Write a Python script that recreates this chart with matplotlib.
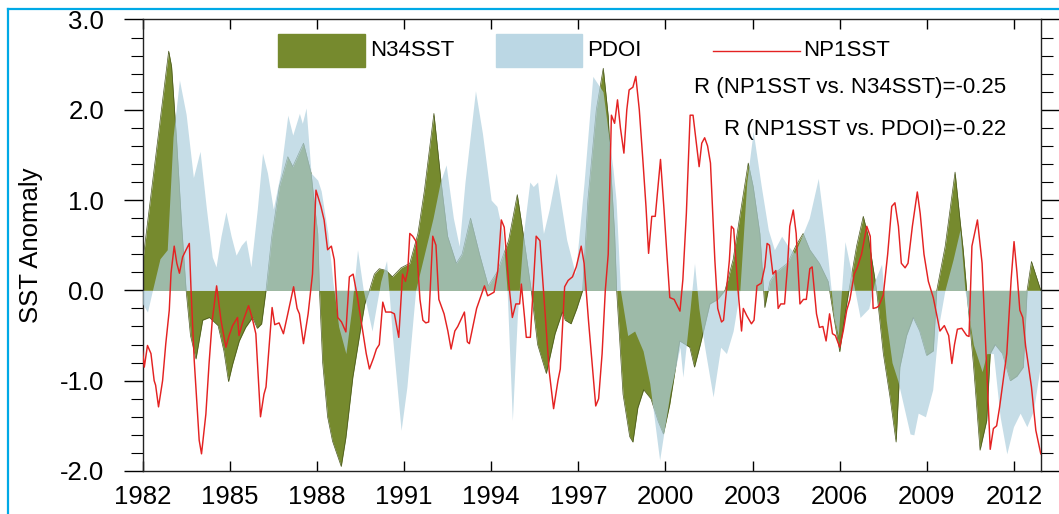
import numpy as np
import matplotlib.pyplot as plt
from matplotlib.patches import Rectangle
from matplotlib.lines import Line2D
from matplotlib.ticker import MultipleLocator, FormatStrFormatter

plt.rcParams['font.family'] = ['Liberation Sans', 'DejaVu Sans']

# (decimal year, anomaly)
n34 = [(1982.0, 0.3), (1982.9, 2.65), (1983.0, 2.48), (1983.1, 2.0), (1983.17, 1.67), (1983.35, 0.7),
       (1983.5, 0.0), (1983.65, -0.5), (1983.84, -0.76), (1984.07, -0.33), (1984.3, -0.3), (1984.6, -0.39),
       (1984.8, -0.67), (1984.96, -1.01), (1985.1, -0.82), (1985.33, -0.56), (1985.55, -0.41), (1985.79, -0.3),
       (1985.95, -0.42), (1986.1, -0.37), (1986.25, 0.0), (1986.45, 0.6), (1986.71, 1.15), (1987.0, 1.48),
       (1987.17, 1.37), (1987.54, 1.63), (1987.8, 1.3), (1988.03, 0.63), (1988.09, 0.0), (1988.2, -0.8),
       (1988.37, -1.4), (1988.54, -1.67), (1988.84, -1.95), (1989.0, -1.63), (1989.24, -0.96), (1989.47, -0.5),
       (1989.65, -0.15), (1989.81, 0.0), (1989.98, 0.18), (1990.15, 0.24), (1990.39, 0.22), (1990.6, 0.15),
       (1990.9, 0.25), (1991.2, 0.3), (1991.48, 0.63), (1991.7, 1.1), (1992.03, 1.96), (1992.27, 1.22),
       (1992.5, 0.6), (1992.8, 0.3), (1993.0, 0.4), (1993.29, 0.8), (1993.6, 0.4), (1993.9, 0.05),
       (1994.2, 0.2), (1994.6, 0.55), (1994.9, 1.06), (1995.1, 0.63), (1995.38, 0.0), (1995.6, -0.6),
       (1995.9, -0.92), (1996.2, -0.48), (1996.45, -0.24), (1996.55, -0.33), (1996.75, -0.37), (1996.95, -0.2),
       (1997.15, 0.0), (1997.33, 1.0), (1997.62, 2.0), (1997.86, 2.46), (1998.03, 1.93), (1998.14, 1.22),
       (1998.25, 0.63), (1998.32, 0.0), (1998.54, -1.15), (1998.77, -1.62), (1998.88, -1.68), (1999.05, -1.3),
       (1999.25, -1.1), (1999.5, -1.2), (1999.75, -1.45), (1999.93, -1.59), (2000.15, -1.26), (2000.49, -0.56),
       (2000.84, -0.63), (2001.0, -0.85), (2001.2, -0.6), (2001.53, -0.15), (2001.8, -0.1), (2002.05, 0.0),
       (2002.33, 0.34), (2002.56, 0.82), (2002.85, 1.41), (2003.02, 1.15), (2003.25, 0.63), (2003.42, -0.19),
       (2003.6, 0.1), (2003.8, 0.2), (2004.2, 0.3), (2004.5, 0.5), (2004.74, 0.63), (2004.97, 0.45),
       (2005.3, 0.3), (2005.6, 0.1), (2005.8, -0.3), (2006.0, -0.68), (2006.15, -0.33), (2006.29, -0.05),
       (2006.58, 0.49), (2006.81, 0.82), (2006.98, 0.6), (2007.27, 0.0), (2007.5, -0.7), (2007.73, -1.18),
       (2007.94, -1.68), (2008.07, -0.85), (2008.3, -0.5), (2008.53, -0.3), (2008.75, -0.45), (2008.99, -0.72),
       (2009.22, -0.67), (2009.34, 0.0), (2009.63, 0.49), (2009.97, 1.31), (2010.14, 0.78), (2010.25, 0.45),
       (2010.37, 0.0), (2010.6, -0.81), (2010.83, -1.77), (2011.06, -1.44), (2011.18, -0.7), (2011.35, -0.6),
       (2011.6, -0.7), (2011.87, -1.0), (2012.1, -0.95), (2012.32, -0.85), (2012.45, 0.0), (2012.6, 0.32),
       (2012.92, 0.0)]

pdoi = [(1982.0, -0.15), (1982.17, -0.24), (1982.34, 0.0), (1982.6, 0.35), (1982.85, 0.45), (1983.05, 1.7),
        (1983.27, 2.33), (1983.5, 1.95), (1983.75, 1.25), (1983.98, 1.54), (1984.2, 0.9), (1984.4, 0.37),
        (1984.53, 0.26), (1984.7, 0.6), (1984.87, 0.87), (1985.05, 0.6), (1985.22, 0.39), (1985.4, 0.5),
        (1985.56, 0.56), (1985.73, 0.26), (1985.95, 0.9), (1986.13, 1.52), (1986.3, 1.3), (1986.5, 0.9),
        (1986.75, 1.3), (1987.0, 1.94), (1987.17, 1.72), (1987.4, 1.96), (1987.5, 1.85), (1987.63, 2.02),
        (1987.8, 1.3), (1988.03, 1.22), (1988.15, 1.1), (1988.38, 0.63), (1988.55, 0.1), (1988.75, -0.4),
        (1989.0, -0.7), (1989.2, -0.2), (1989.4, 0.45), (1989.6, 0.0), (1989.9, -0.45), (1990.2, 0.1),
        (1990.4, 0.33), (1990.6, -0.5), (1990.9, -1.55), (1991.1, -1.07), (1991.4, 0.0), (1991.7, 0.4),
        (1992.0, 0.8), (1992.25, 1.2), (1992.45, 1.39), (1992.7, 0.8), (1992.9, 0.49), (1993.1, 1.2),
        (1993.46, 2.21), (1993.7, 1.74), (1994.0, 1.0), (1994.2, 0.93), (1994.4, 0.63), (1994.55, 0.0),
        (1994.73, -1.44), (1994.9, -0.3), (1995.1, 0.6), (1995.33, 1.2), (1995.45, 1.15), (1995.6, 1.2),
        (1995.8, 0.63), (1996.0, 0.9), (1996.24, 1.3), (1996.6, 0.56), (1996.9, 0.18), (1997.2, 1.2),
        (1997.5, 2.37), (1997.85, 2.2), (1998.2, 1.33), (1998.3, 1.0), (1998.45, 0.0), (1998.7, -0.5),
        (1998.94, -0.45), (1999.23, -0.67), (1999.46, -1.03), (1999.8, -1.88), (2000.15, -1.15), (2000.5, -0.63),
        (2000.6, -0.96), (2000.85, -0.2), (2001.0, 0.3), (2001.15, -0.2), (2001.35, -0.63), (2001.64, -1.18),
        (2001.9, -0.63), (2002.1, -0.7), (2002.33, -0.45), (2002.56, 0.0), (2002.8, 1.2), (2003.02, 1.76),
        (2003.3, 1.15), (2003.54, 0.67), (2003.75, 0.45), (2004.0, 0.6), (2004.2, 0.5), (2004.45, 0.41),
        (2004.7, 0.6), (2004.95, 0.8), (2005.26, 1.24), (2005.5, 0.63), (2005.6, 0.34), (2005.8, -0.3),
        (2005.95, -0.5), (2006.18, 0.54), (2006.4, 0.2), (2006.7, -0.3), (2007.0, -0.2), (2007.2, 0.1),
        (2007.44, 0.29), (2007.6, -0.33), (2007.8, -0.8), (2008.0, -1.0), (2008.42, -1.59), (2008.55, -1.6),
        (2008.7, -1.36), (2008.95, -1.4), (2009.2, -1.1), (2009.4, -0.4), (2009.62, 0.0), (2009.9, 0.34),
        (2010.14, 0.67), (2010.31, 0.0), (2010.6, -0.6), (2010.9, -0.9), (2011.06, -0.7), (2011.29, -0.7),
        (2011.52, -1.4), (2011.75, -1.81), (2011.98, -1.51), (2012.21, -1.36), (2012.44, -1.51), (2012.67, -1.33),
        (2012.92, -0.8)]

np1 = [(1982.00, -0.67), (1982.06, -0.85), (1982.17, -0.61), (1982.29, -0.70), (1982.40, -1.00), (1982.45, -1.05),
       (1982.55, -1.29), (1982.69, -1.00), (1982.80, -0.59), (1982.92, -0.22), (1982.98, 0.19), (1983.09, 0.49),
       (1983.18, 0.30), (1983.27, 0.19), (1983.38, 0.37), (1983.50, 0.45), (1983.61, 0.52), (1983.67, 0.00),
       (1983.78, -0.78), (1983.95, -1.66), (1984.03, -1.81), (1984.18, -1.37), (1984.29, -0.81), (1984.40, -0.33),
       (1984.55, 0.05), (1984.70, -0.33), (1984.87, -0.63), (1984.97, -0.51), (1985.10, -0.39), (1985.27, -0.30),
       (1985.32, -0.50), (1985.45, -0.35), (1985.65, -0.17), (1985.77, -0.30), (1985.90, -0.48), (1986.06, -1.40),
       (1986.18, -1.15), (1986.25, -1.07), (1986.46, -0.19), (1986.55, -0.38), (1986.70, -0.36), (1986.85, -0.48),
       (1987.00, -0.26), (1987.20, 0.04), (1987.32, -0.20), (1987.40, -0.26), (1987.54, -0.59), (1987.70, -0.26),
       (1987.85, 0.18), (1987.97, 1.11), (1988.14, 0.93), (1988.25, 0.78), (1988.37, 0.45), (1988.50, 0.49),
       (1988.60, 0.34), (1988.72, -0.30), (1988.85, -0.35), (1989.00, -0.46), (1989.12, 0.15), (1989.25, 0.18),
       (1989.40, -0.08), (1989.58, -0.45), (1989.70, -0.70), (1989.81, -0.87), (1989.95, -0.75), (1990.05, -0.65),
       (1990.15, -0.60), (1990.27, -0.13), (1990.37, -0.24), (1990.55, -0.24), (1990.67, -0.26), (1990.82, -0.52),
       (1990.95, 0.18), (1991.05, 0.10), (1991.13, 0.22), (1991.20, 0.63), (1991.30, 0.60), (1991.42, 0.54),
       (1991.55, -0.10), (1991.65, -0.33), (1991.75, -0.36), (1991.85, -0.35), (1991.99, 0.60), (1992.10, 0.50),
       (1992.20, -0.10), (1992.38, -0.26), (1992.51, -0.45), (1992.62, -0.65), (1992.75, -0.45), (1992.85, -0.40),
       (1993.08, -0.24), (1993.18, -0.57), (1993.25, -0.59), (1993.50, -0.20), (1993.77, 0.05), (1993.88, -0.06),
       (1994.10, -0.02), (1994.23, 0.22), (1994.35, 0.78), (1994.45, 0.70), (1994.60, 0.10), (1994.73, -0.30),
       (1994.85, -0.15), (1994.98, -0.15), (1995.04, 0.07), (1995.15, -0.30), (1995.21, -0.52), (1995.35, -0.52),
       (1995.55, 0.60), (1995.68, 0.55), (1995.80, 0.00), (1996.00, -0.90), (1996.15, -1.31), (1996.30, -1.00),
       (1996.38, -0.87), (1996.53, 0.04), (1996.65, 0.11), (1996.80, 0.15), (1996.93, 0.26), (1997.10, 0.49),
       (1997.20, 0.30), (1997.35, -0.33), (1997.50, -0.90), (1997.60, -1.28), (1997.70, -1.20), (1997.82, -0.70),
       (1997.93, 0.00), (1998.03, 0.40), (1998.14, 1.94), (1998.25, 1.85), (1998.35, 2.11), (1998.45, 1.80),
       (1998.57, 1.52), (1998.67, 2.00), (1998.75, 2.22), (1998.88, 2.25), (1998.98, 2.37), (1999.10, 2.00),
       (1999.23, 1.41), (1999.33, 0.93), (1999.42, 0.41), (1999.53, 0.82), (1999.65, 0.82), (1999.83, 1.45),
       (1999.95, 0.90), (2000.05, 0.40), (2000.15, -0.08), (2000.30, -0.10), (2000.50, -0.23), (2000.60, 0.12),
       (2000.72, 0.85), (2000.85, 1.94), (2000.95, 1.94), (2001.16, 1.37), (2001.25, 1.63), (2001.35, 1.69),
       (2001.45, 1.60), (2001.55, 1.41), (2001.70, 0.34), (2001.80, -0.20), (2001.93, -0.35), (2002.00, -0.33),
       (2002.10, 0.00), (2002.20, 0.33), (2002.27, 0.71), (2002.35, 0.68), (2002.50, 0.00), (2002.62, -0.45),
       (2002.68, -0.20), (2002.80, -0.28), (2002.96, -0.37), (2003.05, -0.33), (2003.15, 0.05), (2003.30, 0.08),
       (2003.42, 0.26), (2003.50, 0.52), (2003.58, 0.50), (2003.70, 0.18), (2003.80, 0.22), (2003.88, -0.20),
       (2003.97, -0.15), (2004.10, -0.15), (2004.20, 0.26), (2004.28, 0.71), (2004.40, 0.89), (2004.50, 0.63),
       (2004.63, -0.15), (2004.75, -0.10), (2004.85, -0.10), (2004.97, 0.24), (2005.05, 0.26), (2005.20, -0.26),
       (2005.30, -0.41), (2005.42, -0.40), (2005.53, -0.56), (2005.65, -0.26), (2005.75, -0.48), (2005.85, -0.50),
       (2006.00, -0.63), (2006.12, -0.45), (2006.24, -0.22), (2006.35, -0.10), (2006.50, 0.18), (2006.60, 0.25),
       (2006.75, 0.40), (2006.93, 0.71), (2007.05, 0.60), (2007.15, -0.20), (2007.27, -0.19), (2007.35, -0.17),
       (2007.50, -0.05), (2007.65, 0.40), (2007.79, 0.93), (2007.90, 0.97), (2008.02, 0.71), (2008.12, 0.30),
       (2008.25, 0.25), (2008.35, 0.30), (2008.50, 0.71), (2008.67, 1.09), (2008.77, 0.85), (2008.90, 0.40),
       (2009.05, 0.10), (2009.22, -0.08), (2009.45, -0.45), (2009.60, -0.39), (2009.75, -0.50), (2009.86, -0.81),
       (2009.95, -0.60), (2010.05, -0.43), (2010.20, -0.42), (2010.37, -0.50), (2010.45, -0.51), (2010.55, 0.49),
       (2010.74, 0.78), (2010.90, 0.30), (2011.05, -0.80), (2011.18, -1.76), (2011.29, -1.53), (2011.40, -1.50),
       (2011.50, -1.30), (2011.75, -0.70), (2011.90, 0.12), (2012.00, 0.54), (2012.10, 0.20), (2012.20, -0.22),
       (2012.30, -0.30), (2012.40, -0.62), (2012.60, -1.07), (2012.75, -1.55), (2012.92, -1.81)]

n34_t, n34_v = map(np.array, zip(*n34))
pdo_t, pdo_v = map(np.array, zip(*pdoi))
np1_t, np1_v = map(np.array, zip(*np1))

year_ticks = list(range(1982, 2013, 3))
r_n34 = -0.25
r_pdo = -0.22

olive = '#768a2e'
blue = '#aecfdd'
red = '#e42222'

fig = plt.figure(figsize=(10.59, 5.14), dpi=100)
ax = fig.add_axes([0.1346, 0.0837, 0.8481, 0.8784])

ax.fill_between(n34_t, n34_v, 0, color=olive, lw=0, zorder=2)
ax.plot(n34_t, n34_v, color='#4a5820', lw=0.5, zorder=2)
ax.fill_between(pdo_t, pdo_v, 0, color=blue, alpha=0.7, lw=0, zorder=3)
ax.plot(np1_t, np1_v, color=red, lw=1.05, zorder=4)

ax.set_xlim(1982, 2012.917)
ax.set_ylim(-2, 3)
ax.set_xticks(year_ticks)
ax.yaxis.set_major_locator(MultipleLocator(1))
ax.yaxis.set_minor_locator(MultipleLocator(0.2))
ax.yaxis.set_major_formatter(FormatStrFormatter('%.1f'))
ax.tick_params(axis='x', which='both', direction='in', top=True, bottom=True,
               length=7, width=1, labelsize=18.5, pad=10)
ax.tick_params(axis='y', which='major', direction='out', left=True, right=True,
               length=14, width=1, labelsize=18.5, pad=13.5)
ax.tick_params(axis='y', which='minor', direction='out', left=True, right=True,
               length=8.5, width=0.8)
for s in ax.spines.values():
    s.set_linewidth(1.0)
    s.set_color('#222222')

fig.text(0.029, 1 - 245 / 514, 'SST Anomaly', rotation=90, ha='center', va='center', fontsize=18.5)

# legend drawn by hand
tr = ax.transAxes
ax.add_patch(Rectangle((0.1509, 0.8948), 0.0969, 0.0731, transform=tr, color=olive, zorder=6))
ax.text(0.2534, 0.9302, 'N34SST', transform=tr, fontsize=16, va='center', ha='left', zorder=6)
ax.add_patch(Rectangle((0.3937, 0.8948), 0.0957, 0.0731, transform=tr, color='#bbd7e4', zorder=6))
ax.text(0.4950, 0.9302, 'PDOI', transform=tr, fontsize=16, va='center', ha='left', zorder=6)
ax.add_line(Line2D([0.6353, 0.7322], [0.9302, 0.9302], transform=tr, color=red, lw=1.0, zorder=6))
ax.text(0.7355, 0.9302, 'NP1SST', transform=tr, fontsize=16, va='center', ha='left', zorder=6)
ax.text(0.9616, 0.8483, 'R (NP1SST vs. N34SST)=%.2f' % r_n34, transform=tr, fontsize=16,
        ha='right', va='center', zorder=6)
ax.text(0.9616, 0.7553, 'R (NP1SST vs. PDOI)=%.2f' % r_pdo, transform=tr, fontsize=16,
        ha='right', va='center', zorder=6)

# cyan frame around the picture
fig.add_artist(Line2D([7.5 / 1059, 7.5 / 1059], [0, 1 - 8.5 / 514], color='#00a9e6', lw=1.6))
fig.add_artist(Line2D([7.5 / 1059, 1], [1 - 8.5 / 514, 1 - 8.5 / 514], color='#00a9e6', lw=1.6))

fig.savefig('out.png', dpi=100)
